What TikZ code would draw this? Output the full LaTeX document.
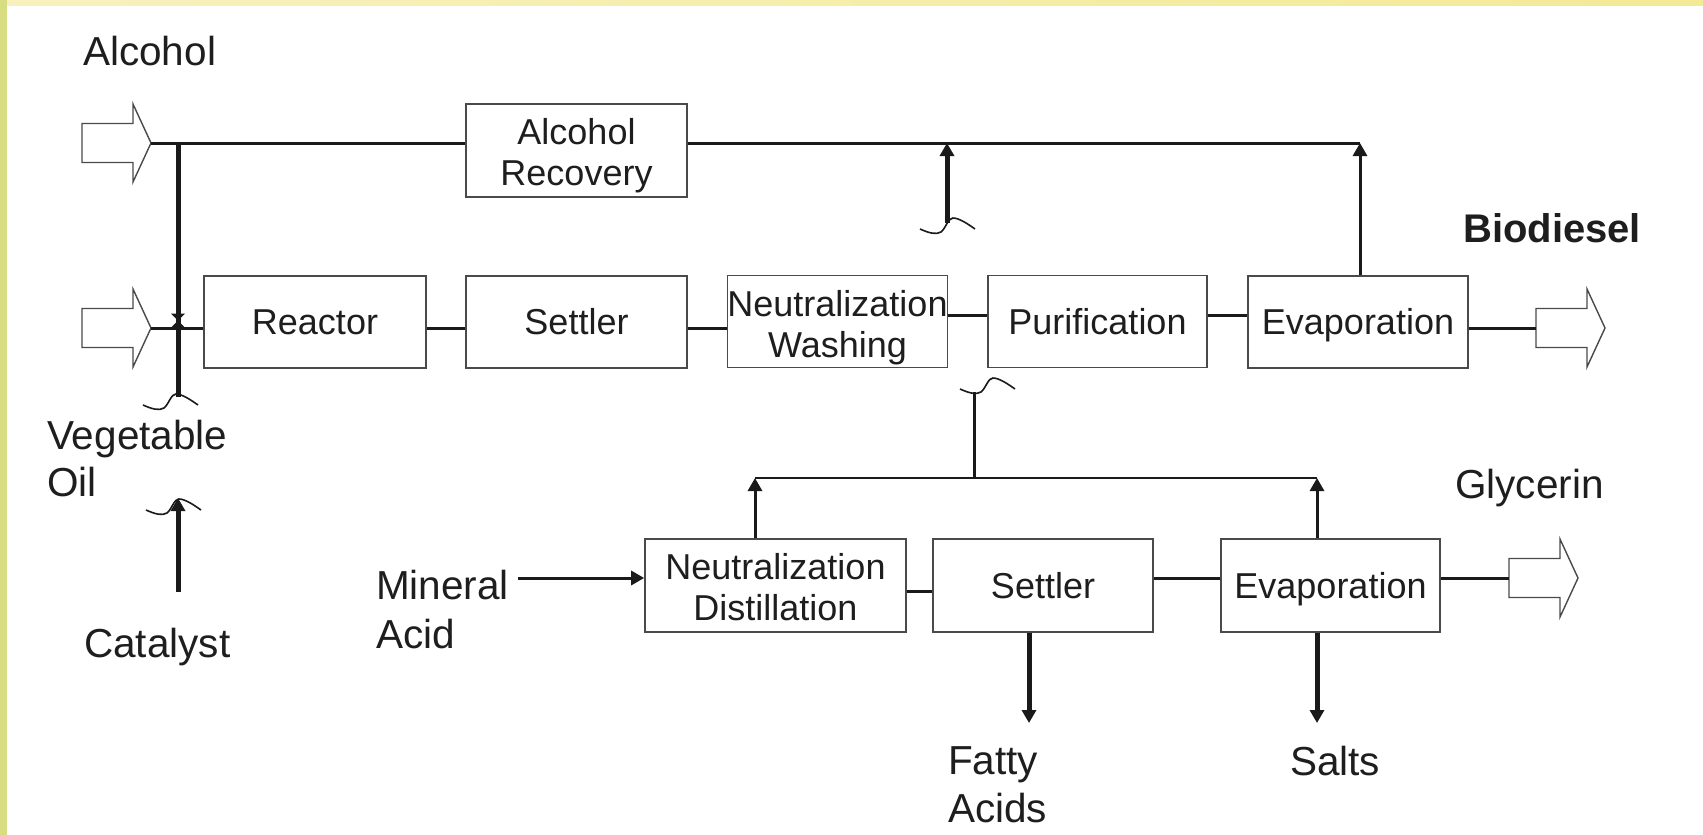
\documentclass[tikz,border=0pt]{standalone}
\usepackage{fontspec}
\setmainfont{Liberation Sans}
\usetikzlibrary{arrows.meta}
\definecolor{linecol}{HTML}{1A1A1A}
\definecolor{boxcol}{HTML}{4A4A4A}
\definecolor{txtcol}{HTML}{1E1E1E}
\definecolor{leftband}{RGB}{216,221,130}
\definecolor{topbandA}{RGB}{248,241,190}
\definecolor{topbandB}{RGB}{243,234,150}
\newcommand{\lift}[1]{\rule{0pt}{#1}}
\tikzset{
  procbox/.style={draw=boxcol, line width=1.6pt, fill=white, inner sep=0pt, minimum height=92pt, align=center, text=txtcol, font=\fontsize{36}{41}\selectfont},
  oneline/.style={text height=31.5pt, text depth=6pt},
  lbl/.style={inner sep=0pt, text=txtcol, font=\fontsize{40.5}{48}\selectfont, align=left},
  flow/.style={draw=linecol, line width=3pt},
  heavy/.style={draw=linecol, line width=5pt},
  finer/.style={draw=linecol, line width=2pt},
  tip/.style={-{Triangle[width=14pt,length=13pt]}},
  hollow/.style={draw=boxcol, line width=1.4pt, fill=white, line join=miter},
  squig/.style={draw=linecol, line width=1.6pt},
  harrow/.pic={\path[hollow] (-69,-19.5) -- (-18,-19.5) -- (-18,-39) -- (0,0) -- (-18,39) -- (-18,19.5) -- (-69,19.5) -- cycle;},
  squiggle/.pic={\path[squig] (-33,11) .. controls (-24,15) and (-17,17) .. (-12,14) .. controls (-7,10) and (-5,0) .. (0,0) .. controls (6,0) and (15,6) .. (22,11);}
}
\begin{document}
\begin{tikzpicture}[x=1pt,y=-1pt]
\useasboundingbox (0,0) rectangle (1703,835);
\fill[white] (0,0) rectangle (1703,835);
\shade[left color=topbandA, right color=topbandB] (0,0) rectangle (1703,5);
\fill[leftband] (0,0) rectangle (7,835);

% process boxes
\node[procbox, oneline, minimum width=222pt] (reactor) at (315,322) {Reactor};
\node[procbox, oneline, minimum width=221pt] (settlerA) at (576.5,322) {Settler};
\node[procbox, minimum width=219pt] (washing) at (837.5,321.5) {\lift{39pt}Neutralization\\Washing};
\node[procbox, oneline, minimum width=219pt] (purif) at (1097.5,321.5) {Purification};
\node[procbox, oneline, minimum width=220pt] (evapA) at (1358,322) {Evaporation};
\node[procbox, minimum width=221pt, minimum height=93pt] (recovery) at (576.5,150.5) {\lift{36pt}Alcohol\\Recovery};
\node[procbox, minimum width=261pt, minimum height=93pt] (distill) at (775.5,585.5) {\lift{29pt}Neutralization\\Distillation};
\node[procbox, oneline, minimum width=220pt, minimum height=93pt] (settlerB) at (1043,585.5) {Settler};
\node[procbox, oneline, minimum width=219pt, minimum height=93pt] (evapB) at (1330.5,585.5) {Evaporation};

% hollow feed / product arrows
\pic at (151,143) {harrow};
\pic at (151,328) {harrow};
\pic at (1605,328) {harrow};
\pic at (1578,578) {harrow};
\coordinate (alcIn) at (151,143);
\coordinate (oilIn) at (151,328);
\coordinate (bioOut) at (1536,328);
\coordinate (glyOut) at (1509,578);

% labels
\node[lbl, anchor=base west] (lalc) at (83,65) {Alcohol};
\node[lbl, anchor=base west, font=\fontsize{40}{48}\selectfont\bfseries] (lbio) at (1463,242) {Biodiesel};
\node[lbl, anchor=north west, font=\fontsize{40.5}{47}\selectfont] (loil) at (47,419.5) {Vegetable\\Oil};
\node[lbl, anchor=base west] (lcat) at (84,657) {Catalyst};
\node[lbl, anchor=north west, font=\fontsize{40.5}{49}\selectfont] (lacid) at (376,569.5) {Mineral\\Acid};
\node[lbl, anchor=base west] (lgly) at (1455,498) {Glycerin};
\node[lbl, anchor=north west] (lfat) at (948,746.5) {Fatty\\Acids};
\node[lbl, anchor=base west] (lsalt) at (1290,775) {Salts};

% alcohol line and recovery
\coordinate (topR) at (1360,143);
\draw[flow] (alcIn) -- (alcIn -| recovery.west);
\draw[flow] (recovery.east |- alcIn) -- (topR);
\draw[flow, tip] (topR |- evapA.north) -- (topR);
\coordinate (washUp) at (947,223);
\draw[heavy, tip] (washUp) -- (washUp |- alcIn);
\pic at (953,218) {squiggle};

% alcohol feed down to mixing point
\coordinate (mixTop) at (178,143);
\coordinate (mixBot) at (178,397);
\draw[heavy] (mixTop) -- (mixBot);
\pic at (176,394) {squiggle};

% main biodiesel line
\coordinate (lvl) at (0,315);
\draw[flow] (oilIn) -- (oilIn -| reactor.west);
\draw[flow] (reactor.east |- oilIn) -- (settlerA.west |- oilIn);
\draw[flow] (settlerA.east |- oilIn) -- (washing.west |- oilIn);
\draw[flow] (washing.east |- lvl) -- (purif.west |- lvl);
\draw[flow] (purif.east |- lvl) -- (evapA.west |- lvl);
\draw[flow] (evapA.east |- oilIn) -- (bioOut);
\path[fill=linecol] (171,313.5) -- (185,313.5) -- (171,327.5) -- (185,327.5) -- cycle;

% catalyst
\coordinate (catFoot) at (178,592);
\coordinate (catHead) at (178,498);
\draw[heavy, tip] (catFoot) -- (catHead);
\pic at (179,499) {squiggle};

% glycerin line
\coordinate (acidStart) at (518,578);
\coordinate (lvlB) at (0,591);
\draw[flow, tip] (acidStart) -- (acidStart -| distill.west);
\draw[flow] (distill.east |- lvlB) -- (settlerB.west |- lvlB);
\draw[flow] (settlerB.east |- acidStart) -- (evapB.west |- acidStart);
\draw[flow] (evapB.east |- acidStart) -- (glyOut);

% recycle to purification
\coordinate (upL) at (755,478);
\coordinate (upR) at (1317,478);
\draw[flow, tip] (upL |- distill.north) -- (upL);
\draw[flow, tip] (upR |- evapB.north) -- (upR);
\draw[finer] (upL) -- (upR);
\coordinate (retTop) at (974,392);
\draw[flow] (retTop |- upL) -- (retTop);
\pic at (993,378) {squiggle};

% products
\coordinate (fattyEnd) at (1029,723);
\coordinate (saltEnd) at (1317,723);
\draw[heavy, tip] (fattyEnd |- settlerB.south) -- (fattyEnd);
\draw[heavy, tip] (saltEnd |- evapB.south) -- (saltEnd);
\end{tikzpicture}
\end{document}
